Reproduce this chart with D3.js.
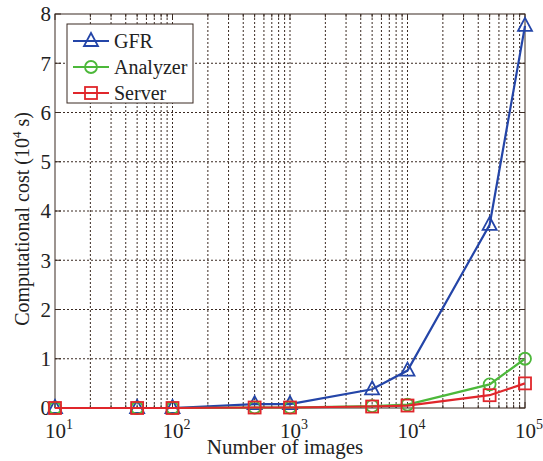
<!DOCTYPE html>
<html>
<head>
<meta charset="utf-8">
<script src="https://cdn.jsdelivr.net/npm/d3@7"></script>
<style>
  body { margin: 0; background: #fff; overflow: hidden; }
  svg { display: block; }
  svg text { font-family: "Liberation Serif", "DejaVu Serif", serif; fill: #222; }
</style>
</head>
<body>
<svg id="chart"></svg>
<script>
const images = [10, 50, 100, 500, 1000, 5000, 10000, 50000, 100000];
const gfr = [0, 0, 0, 0.08, 0.08, 0.38, 0.76, 3.72, 7.76];
const analyzer = [0, 0, 0, 0.01, 0.01, 0.04, 0.07, 0.48, 1.0];
const server = [0, 0, 0, 0.01, 0.01, 0.03, 0.05, 0.26, 0.5];
const xTicks = [10, 100, 1000, 10000, 100000];
const yTicks = [0, 1, 2, 3, 4, 5, 6, 7, 8];

const series = [
  { name: "GFR", color: "#2445a8", marker: "triangle", values: gfr },
  { name: "Analyzer", color: "#4cb83a", marker: "circle", values: analyzer },
  { name: "Server", color: "#e0262b", marker: "square", values: server },
];

const width = 543, height = 461;
const margin = { top: 14, right: 18, bottom: 53, left: 55 };
const innerWidth = width - margin.left - margin.right;
const innerHeight = height - margin.top - margin.bottom;

const svg = d3.select("#chart").attr("width", width).attr("height", height);
const g = svg.append("g").attr("transform", `translate(${margin.left},${margin.top})`);

const x = d3.scaleLog().domain([10, 100000]).range([0, innerWidth]);
const y = d3.scaleLinear().domain([0, 8]).range([innerHeight, 0]);

// minor + major log positions
const logLines = [];
for (let e = 1; e < 5; e++) {
  for (let k = 1; k < 10; k++) logLines.push(k * Math.pow(10, e));
}
logLines.push(100000);

// grid
g.append("g").selectAll("line").data(logLines.filter(d => d > 10 && d < 100000)).join("line")
  .attr("x1", d => x(d)).attr("x2", d => x(d))
  .attr("y1", 0).attr("y2", innerHeight)
  .attr("stroke", "#3a2a22").attr("stroke-width", 1).attr("stroke-dasharray", "2,2");
g.append("g").selectAll("line").data(yTicks.filter(d => d > 0 && d < 8)).join("line")
  .attr("x1", 0).attr("x2", innerWidth)
  .attr("y1", d => y(d)).attr("y2", d => y(d))
  .attr("stroke", "#3a2a22").attr("stroke-width", 1).attr("stroke-dasharray", "2,2");

// box
g.append("rect").attr("width", innerWidth).attr("height", innerHeight)
  .attr("fill", "none").attr("stroke", "#3a2a22").attr("stroke-width", 1);

// inside ticks
const tickG = g.append("g").attr("stroke", "#3a2a22");
logLines.forEach(d => {
  const len = xTicks.includes(d) ? 6 : 3.5;
  tickG.append("line").attr("x1", x(d)).attr("x2", x(d)).attr("y1", innerHeight).attr("y2", innerHeight - len);
  tickG.append("line").attr("x1", x(d)).attr("x2", x(d)).attr("y1", 0).attr("y2", len);
});
yTicks.forEach(d => {
  tickG.append("line").attr("x1", 0).attr("x2", 6).attr("y1", y(d)).attr("y2", y(d));
  tickG.append("line").attr("x1", innerWidth).attr("x2", innerWidth - 6).attr("y1", y(d)).attr("y2", y(d));
});

// tick labels
g.append("g").selectAll("text").data(yTicks).join("text")
  .attr("x", -4).attr("y", d => y(d)).attr("dy", "0.35em")
  .attr("text-anchor", "end").style("font-size", "21px")
  .text(d => d);

const xl = g.append("g").selectAll("text").data(xTicks).join("text")
  .attr("x", d => x(d) + 4).attr("y", innerHeight + 30)
  .attr("text-anchor", "middle").style("font-size", "21px");
xl.append("tspan").text("10");
xl.append("tspan").attr("dy", -9).style("font-size", "14px").text(d => Math.round(Math.log10(d)));

// axis titles
g.append("text").attr("x", innerWidth / 2 - 5).attr("y", innerHeight + 46)
  .attr("text-anchor", "middle").style("font-size", "21px").text("Number of images");

const yt = svg.append("text")
  .attr("transform", `translate(29,${margin.top + innerHeight / 2 + 8}) rotate(-90)`)
  .attr("text-anchor", "middle").style("font-size", "20px");
yt.append("tspan").text("Computational cost (10");
yt.append("tspan").attr("dy", -8).style("font-size", "13px").text("4");
yt.append("tspan").attr("dy", 8).text(" s)");

// lines and markers
function drawMarker(sel, type, color) {
  if (type === "triangle") {
    sel.append("path").attr("d", "M0,-8 L7,5 L-7,5 Z");
  } else if (type === "circle") {
    sel.append("circle").attr("r", 6);
  } else {
    sel.append("rect").attr("x", -6).attr("y", -6).attr("width", 12).attr("height", 12);
  }
  sel.attr("fill", "none").attr("stroke", color).attr("stroke-width", 1.8);
}

const line = d3.line().x(d => x(d[0])).y(d => y(d[1]));
series.forEach(s => {
  const pts = images.map((v, i) => [v, s.values[i]]);
  g.append("path").datum(pts)
    .attr("fill", "none").attr("stroke", s.color).attr("stroke-width", 2.2)
    .attr("d", line);
  pts.forEach(p => {
    const m = g.append("g").attr("transform", `translate(${x(p[0])},${y(p[1])})`);
    drawMarker(m, s.marker, s.color);
  });
});

// legend
const legend = g.append("g").attr("transform", "translate(12,10)");
legend.append("rect").attr("width", 126).attr("height", 79)
  .attr("fill", "#fff").attr("stroke", "#3a2a22").attr("stroke-width", 1);
series.forEach((s, i) => {
  const row = legend.append("g").attr("transform", `translate(0,${17 + i * 26})`);
  row.append("line").attr("x1", 6).attr("x2", 42).attr("stroke", s.color).attr("stroke-width", 2.2);
  drawMarker(row.append("g").attr("transform", "translate(24,0)"), s.marker, s.color);
  row.append("text").attr("x", 47).attr("dy", "0.35em").style("font-size", "20px").text(s.name);
});
</script>
</body>
</html>
